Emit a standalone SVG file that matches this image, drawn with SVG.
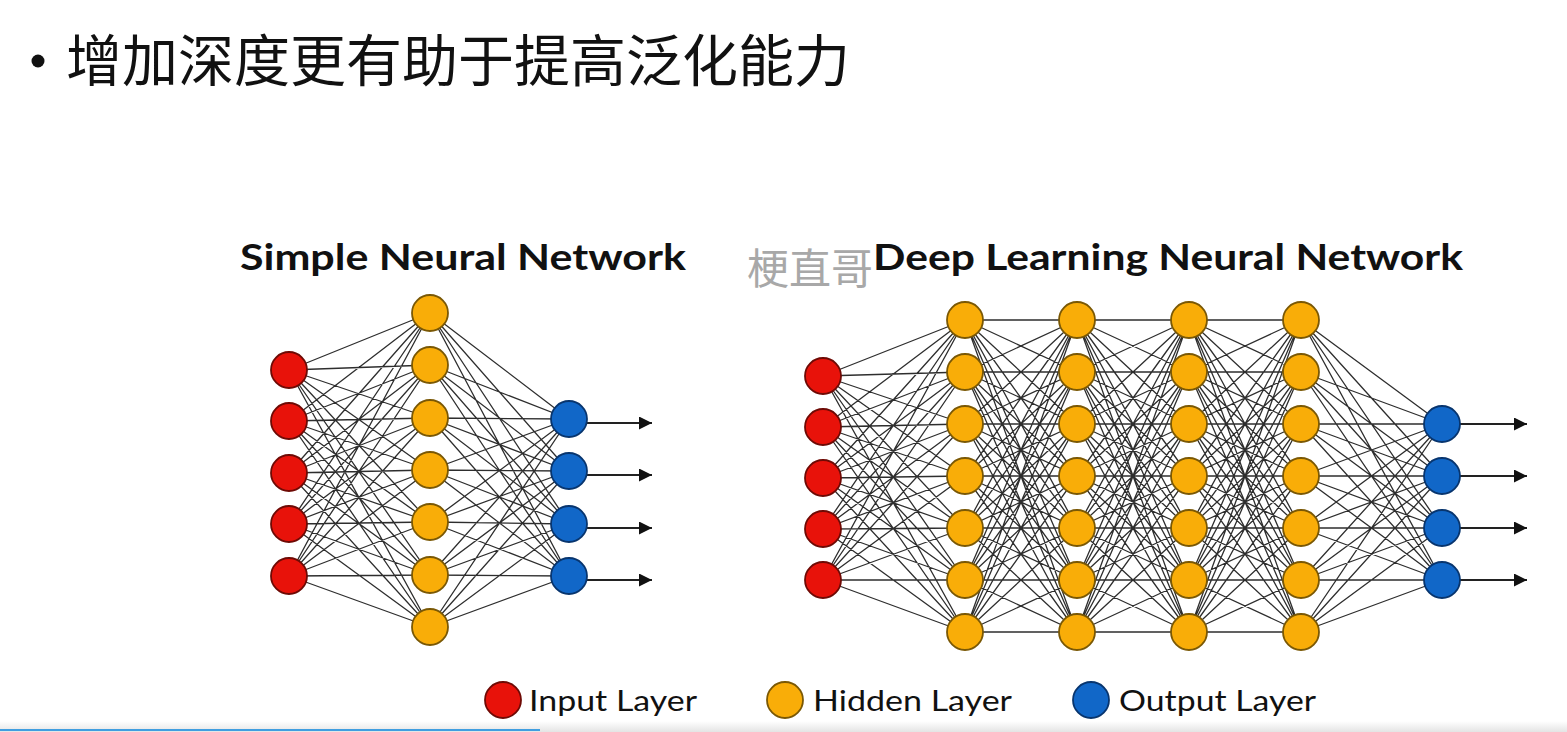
<svg xmlns="http://www.w3.org/2000/svg" xmlns:xlink="http://www.w3.org/1999/xlink" width="1567" height="732" viewBox="0 0 1567 732">
<defs>
<style>
.ttl{font-family:Lato,"Liberation Sans",sans-serif;font-weight:700;font-size:37px;fill:#111}
.leg{font-family:Lato,"Liberation Sans",sans-serif;font-size:29px;fill:#111}
.cn{fill:none;stroke:#2e2e2e;stroke-width:1.3;stroke-linejoin:round}
.in{fill:#e8120a;stroke:#6e0a05;stroke-width:1.8}
.hd{fill:#f9ad08;stroke:#7a5805;stroke-width:1.8}
.ou{fill:#1167c8;stroke:#08356e;stroke-width:1.8}
.ar{stroke:#222;stroke-width:2;fill:none}
</style>
<marker id="ah" viewBox="0 0 10 10" refX="10" refY="5" markerUnits="userSpaceOnUse" markerWidth="13" markerHeight="13" orient="auto">
<path d="M0 0L10 5L0 10z" fill="#111"/>
</marker>
<linearGradient id="bar" x1="0" y1="0" x2="0" y2="1">
<stop offset="0" stop-color="#ffffff"/>
<stop offset="1" stop-color="#e4e4e4"/>
</linearGradient>
<path id="k77" class="cn" d="M0 320L112 320 0 320 112 372 0 320 112 424 0 320 112 476 0 320 112 528 0 320 112 580 0 320 112 632
M0 372L112 320 0 372 112 372 0 372 112 424 0 372 112 476 0 372 112 528 0 372 112 580 0 372 112 632
M0 424L112 320 0 424 112 372 0 424 112 424 0 424 112 476 0 424 112 528 0 424 112 580 0 424 112 632
M0 476L112 320 0 476 112 372 0 476 112 424 0 476 112 476 0 476 112 528 0 476 112 580 0 476 112 632
M0 528L112 320 0 528 112 372 0 528 112 424 0 528 112 476 0 528 112 528 0 528 112 580 0 528 112 632
M0 580L112 320 0 580 112 372 0 580 112 424 0 580 112 476 0 580 112 528 0 580 112 580 0 580 112 632
M0 632L112 320 0 632 112 372 0 632 112 424 0 632 112 476 0 632 112 528 0 632 112 580 0 632 112 632"/>
</defs>
<rect width="1567" height="732" fill="#ffffff"/>

<g id="heading">
<circle cx="38" cy="61" r="6.5" fill="#111"/>
<text x="66" y="81" font-family="'Noto Sans CJK SC','Noto Sans',sans-serif" font-size="56" fill="#111" textLength="784" lengthAdjust="spacingAndGlyphs">增加深度更有助于提高泛化能力</text>
</g>

<g id="titles">
<text class="ttl" x="240" y="270" textLength="446" lengthAdjust="spacingAndGlyphs">Simple Neural Network</text>
<text class="ttl" x="873" y="270" textLength="590" lengthAdjust="spacingAndGlyphs">Deep Learning Neural Network</text>
<text x="747" y="284" font-family="'Noto Sans CJK SC',sans-serif" font-size="42" fill="#a8a8a8">梗直哥</text>
</g>

<g id="connectors">
<path class="cn" d="M289 370L430 313 289 370 430 365 289 370 430 418 289 370 430 470 289 370 430 522 289 370 430 575 289 370 430 627
M289 421L430 313 289 421 430 365 289 421 430 418 289 421 430 470 289 421 430 522 289 421 430 575 289 421 430 627
M289 473L430 313 289 473 430 365 289 473 430 418 289 473 430 470 289 473 430 522 289 473 430 575 289 473 430 627
M289 524L430 313 289 524 430 365 289 524 430 418 289 524 430 470 289 524 430 522 289 524 430 575 289 524 430 627
M289 576L430 313 289 576 430 365 289 576 430 418 289 576 430 470 289 576 430 522 289 576 430 575 289 576 430 627"/>
<path class="cn" d="M430 313L569 419 430 313 569 471 430 313 569 524 430 313 569 576
M430 365L569 419 430 365 569 471 430 365 569 524 430 365 569 576
M430 418L569 419 430 418 569 471 430 418 569 524 430 418 569 576
M430 470L569 419 430 470 569 471 430 470 569 524 430 470 569 576
M430 522L569 419 430 522 569 471 430 522 569 524 430 522 569 576
M430 575L569 419 430 575 569 471 430 575 569 524 430 575 569 576
M430 627L569 419 430 627 569 471 430 627 569 524 430 627 569 576"/>
<path class="cn" d="M823 376L965 320 823 376 965 372 823 376 965 424 823 376 965 476 823 376 965 528 823 376 965 580 823 376 965 632
M823 427L965 320 823 427 965 372 823 427 965 424 823 427 965 476 823 427 965 528 823 427 965 580 823 427 965 632
M823 478L965 320 823 478 965 372 823 478 965 424 823 478 965 476 823 478 965 528 823 478 965 580 823 478 965 632
M823 529L965 320 823 529 965 372 823 529 965 424 823 529 965 476 823 529 965 528 823 529 965 580 823 529 965 632
M823 580L965 320 823 580 965 372 823 580 965 424 823 580 965 476 823 580 965 528 823 580 965 580 823 580 965 632"/>
<use xlink:href="#k77" href="#k77" x="965"/>
<use xlink:href="#k77" href="#k77" x="1077"/>
<use xlink:href="#k77" href="#k77" x="1189"/>
<path class="cn" d="M1301 320L1442 424 1301 320 1442 476 1301 320 1442 528 1301 320 1442 580
M1301 372L1442 424 1301 372 1442 476 1301 372 1442 528 1301 372 1442 580
M1301 424L1442 424 1301 424 1442 476 1301 424 1442 528 1301 424 1442 580
M1301 476L1442 424 1301 476 1442 476 1301 476 1442 528 1301 476 1442 580
M1301 528L1442 424 1301 528 1442 476 1301 528 1442 528 1301 528 1442 580
M1301 580L1442 424 1301 580 1442 476 1301 580 1442 528 1301 580 1442 580
M1301 632L1442 424 1301 632 1442 476 1301 632 1442 528 1301 632 1442 580"/>
<line class="ar" x1="587" y1="423" x2="652" y2="423" marker-end="url(#ah)"/>
<line class="ar" x1="587" y1="475" x2="652" y2="475" marker-end="url(#ah)"/>
<line class="ar" x1="587" y1="528" x2="652" y2="528" marker-end="url(#ah)"/>
<line class="ar" x1="587" y1="580" x2="652" y2="580" marker-end="url(#ah)"/>
<line class="ar" x1="1460" y1="424" x2="1527" y2="424" marker-end="url(#ah)"/>
<line class="ar" x1="1460" y1="476" x2="1527" y2="476" marker-end="url(#ah)"/>
<line class="ar" x1="1460" y1="528" x2="1527" y2="528" marker-end="url(#ah)"/>
<line class="ar" x1="1460" y1="580" x2="1527" y2="580" marker-end="url(#ah)"/>
</g>

<g id="simple-input">
<circle class="in" cx="289" cy="370" r="18"/><circle class="in" cx="289" cy="421" r="18"/><circle class="in" cx="289" cy="473" r="18"/><circle class="in" cx="289" cy="524" r="18"/><circle class="in" cx="289" cy="576" r="18"/>
</g>
<g id="simple-hidden">
<circle class="hd" cx="430" cy="313" r="18"/><circle class="hd" cx="430" cy="365" r="18"/><circle class="hd" cx="430" cy="418" r="18"/><circle class="hd" cx="430" cy="470" r="18"/><circle class="hd" cx="430" cy="522" r="18"/><circle class="hd" cx="430" cy="575" r="18"/><circle class="hd" cx="430" cy="627" r="18"/>
</g>
<g id="simple-output">
<circle class="ou" cx="569" cy="419" r="18"/><circle class="ou" cx="569" cy="471" r="18"/><circle class="ou" cx="569" cy="524" r="18"/><circle class="ou" cx="569" cy="576" r="18"/>
</g>

<g id="deep-input">
<circle class="in" cx="823" cy="376" r="18"/><circle class="in" cx="823" cy="427" r="18"/><circle class="in" cx="823" cy="478" r="18"/><circle class="in" cx="823" cy="529" r="18"/><circle class="in" cx="823" cy="580" r="18"/>
</g>
<g id="deep-hidden-1">
<circle class="hd" cx="965" cy="320" r="18"/><circle class="hd" cx="965" cy="372" r="18"/><circle class="hd" cx="965" cy="424" r="18"/><circle class="hd" cx="965" cy="476" r="18"/><circle class="hd" cx="965" cy="528" r="18"/><circle class="hd" cx="965" cy="580" r="18"/><circle class="hd" cx="965" cy="632" r="18"/>
</g>
<g id="deep-hidden-2">
<circle class="hd" cx="1077" cy="320" r="18"/><circle class="hd" cx="1077" cy="372" r="18"/><circle class="hd" cx="1077" cy="424" r="18"/><circle class="hd" cx="1077" cy="476" r="18"/><circle class="hd" cx="1077" cy="528" r="18"/><circle class="hd" cx="1077" cy="580" r="18"/><circle class="hd" cx="1077" cy="632" r="18"/>
</g>
<g id="deep-hidden-3">
<circle class="hd" cx="1189" cy="320" r="18"/><circle class="hd" cx="1189" cy="372" r="18"/><circle class="hd" cx="1189" cy="424" r="18"/><circle class="hd" cx="1189" cy="476" r="18"/><circle class="hd" cx="1189" cy="528" r="18"/><circle class="hd" cx="1189" cy="580" r="18"/><circle class="hd" cx="1189" cy="632" r="18"/>
</g>
<g id="deep-hidden-4">
<circle class="hd" cx="1301" cy="320" r="18"/><circle class="hd" cx="1301" cy="372" r="18"/><circle class="hd" cx="1301" cy="424" r="18"/><circle class="hd" cx="1301" cy="476" r="18"/><circle class="hd" cx="1301" cy="528" r="18"/><circle class="hd" cx="1301" cy="580" r="18"/><circle class="hd" cx="1301" cy="632" r="18"/>
</g>
<g id="deep-output">
<circle class="ou" cx="1442" cy="424" r="18"/><circle class="ou" cx="1442" cy="476" r="18"/><circle class="ou" cx="1442" cy="528" r="18"/><circle class="ou" cx="1442" cy="580" r="18"/>
</g>

<g id="legend">
<circle class="in" cx="503" cy="700" r="18"/>
<text class="leg" x="529" y="711" textLength="168" lengthAdjust="spacingAndGlyphs">Input Layer</text>
<circle class="hd" cx="785" cy="700" r="18"/>
<text class="leg" x="813" y="711" textLength="199" lengthAdjust="spacingAndGlyphs">Hidden Layer</text>
<circle class="ou" cx="1091" cy="700" r="18"/>
<text class="leg" x="1119" y="711" textLength="197" lengthAdjust="spacingAndGlyphs">Output Layer</text>
</g>

<g id="player-bar">
<rect x="0" y="721" width="1567" height="11" fill="url(#bar)"/>
<rect x="0" y="729" width="540" height="2" fill="#3f9ee0"/>
</g>
</svg>
